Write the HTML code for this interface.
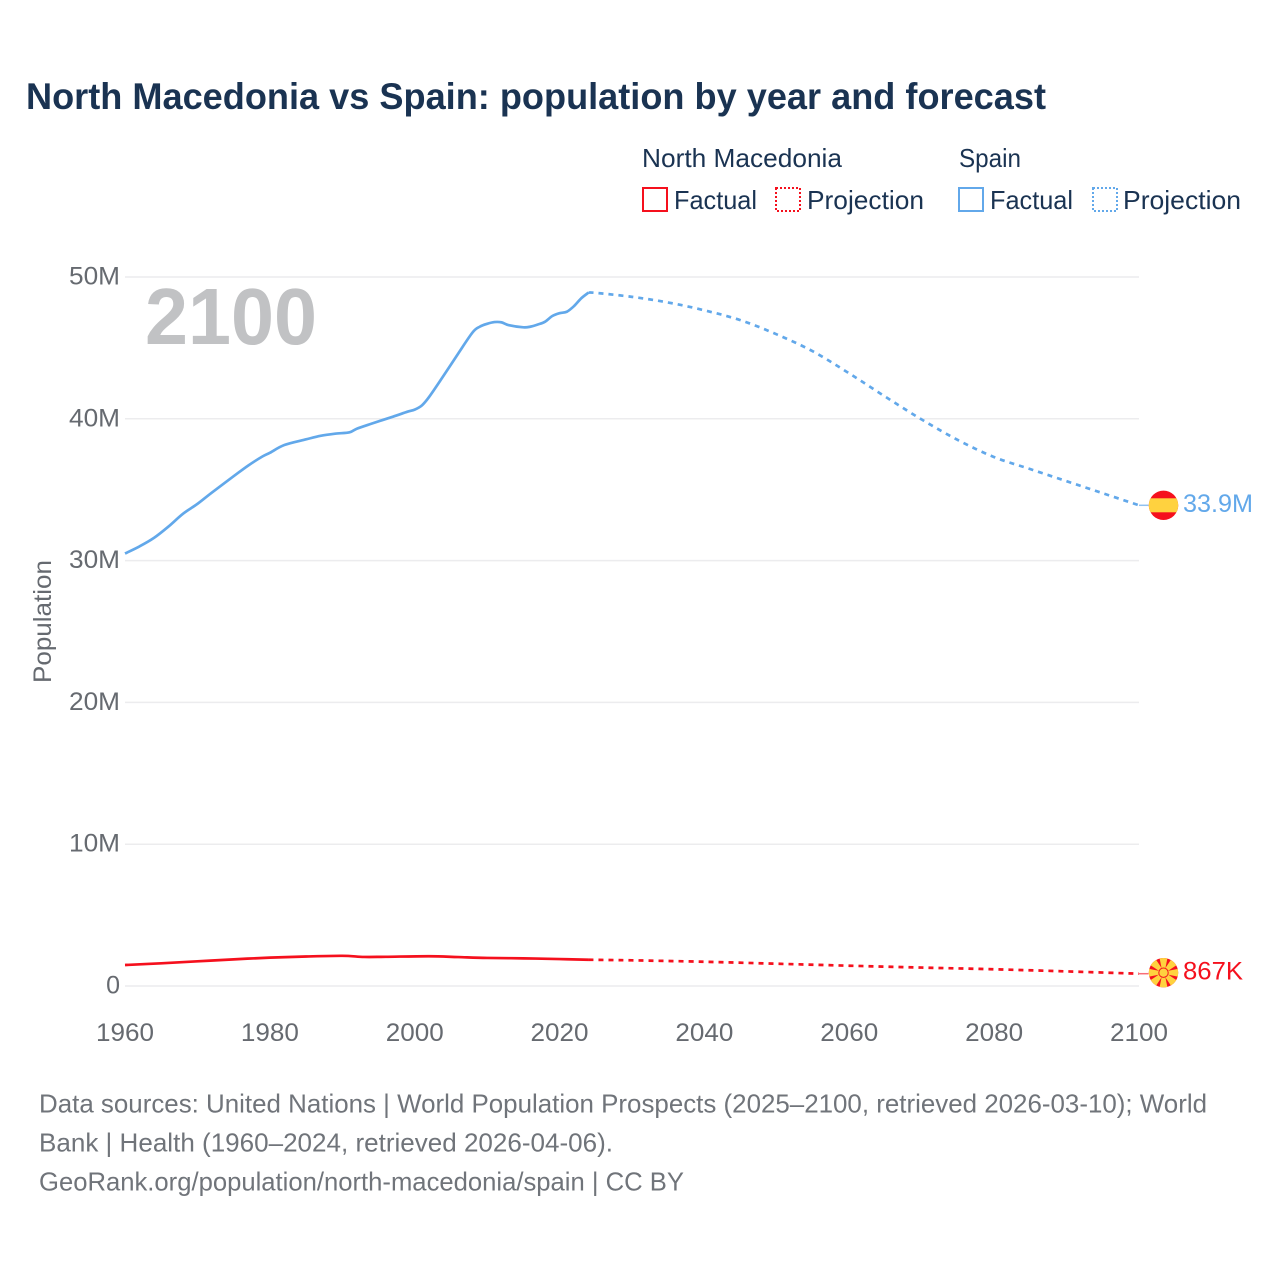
<!DOCTYPE html>
<html lang="en">
<head>
<meta charset="utf-8">
<title>North Macedonia vs Spain: population by year and forecast</title>
<style>
html,body{margin:0;padding:0;background:#fff}
svg{display:block}
text{font-family:"Liberation Sans",Arial,sans-serif}
</style>
</head>
<body>
<svg id="chart" xmlns="http://www.w3.org/2000/svg" width="1280" height="1280" viewBox="0 0 1280 1280">
  <rect width="1280" height="1280" fill="#fff"/>
  <text x="26" y="109" font-size="37" font-weight="700" fill="#1a3352" textLength="1020" lengthAdjust="spacingAndGlyphs">North Macedonia vs Spain: population by year and forecast</text>

  <g font-size="26" fill="#1a3352">
    <text x="642" y="167" textLength="200" lengthAdjust="spacingAndGlyphs">North Macedonia</text>
    <text x="959" y="167" textLength="62" lengthAdjust="spacingAndGlyphs">Spain</text>
    <g>
      <rect x="643" y="188" width="24" height="23" fill="none" stroke="#f5101d" stroke-width="2"/>
      <text x="674" y="209" textLength="83" lengthAdjust="spacingAndGlyphs">Factual</text>
    </g>
    <g>
      <rect x="776" y="188" width="24" height="23" fill="none" stroke="#f5101d" stroke-width="2" stroke-dasharray="2 2"/>
      <text x="807" y="209" textLength="117" lengthAdjust="spacingAndGlyphs">Projection</text>
    </g>
    <g>
      <rect x="959" y="188" width="24" height="23" fill="none" stroke="#62a8ea" stroke-width="2"/>
      <text x="990" y="209" textLength="83" lengthAdjust="spacingAndGlyphs">Factual</text>
    </g>
    <g>
      <rect x="1093" y="188" width="24" height="23" fill="none" stroke="#62a8ea" stroke-width="2" stroke-dasharray="2 2"/>
      <text x="1123" y="209" textLength="118" lengthAdjust="spacingAndGlyphs">Projection</text>
    </g>
  </g>

  <g id="grid"></g>
  <g id="yticks" font-size="25" fill="#666a70"></g>
  <g id="xticks" font-size="25" fill="#666a70"></g>
  <text transform="translate(51 683) rotate(-90)" font-size="25" fill="#666a70" textLength="123" lengthAdjust="spacingAndGlyphs">Population</text>
  <text x="145" y="344" font-size="80" font-weight="700" fill="#c1c2c4" textLength="172" lengthAdjust="spacingAndGlyphs">2100</text>

  <g id="series"></g>
  <g id="markers"></g>

  <g font-size="26" fill="#70747a">
    <text x="39" y="1112.5" textLength="1168" lengthAdjust="spacingAndGlyphs">Data sources: United Nations | World Population Prospects (2025–2100, retrieved 2026-03-10); World</text>
    <text x="39" y="1151.5" textLength="574" lengthAdjust="spacingAndGlyphs">Bank | Health (1960–2024, retrieved 2026-04-06).</text>
    <text x="39" y="1190.5" textLength="645" lengthAdjust="spacingAndGlyphs">GeoRank.org/population/north-macedonia/spain | CC BY</text>
  </g>
</svg>
<script>
const xTickYears = [1960, 1980, 2000, 2020, 2040, 2060, 2080, 2100];
const yTickValues = [0, 10, 20, 30, 40, 50];
const yTickLabels = ['0', '10M', '20M', '30M', '40M', '50M'];

const spainFactualYears = [1960, 1962, 1964, 1966, 1968, 1970, 1972, 1975, 1977, 1979, 1980, 1982, 1985, 1987, 1989, 1991, 1992, 1994, 1997, 1999, 2000, 2001, 2002, 2004, 2006, 2008, 2009, 2010, 2011, 2012, 2013, 2015, 2016, 2017, 2018, 2019, 2020, 2021, 2022, 2023, 2024];
const spainFactualValues = [30.5, 31.0, 31.6, 32.4, 33.3, 34.0, 34.8, 35.95, 36.7, 37.35, 37.6, 38.15, 38.55, 38.8, 38.95, 39.05, 39.3, 39.65, 40.15, 40.5, 40.65, 40.95, 41.55, 43.05, 44.6, 46.1, 46.5, 46.7, 46.82, 46.8, 46.6, 46.45, 46.5, 46.65, 46.85, 47.25, 47.45, 47.55, 47.95, 48.5, 48.9];
const spainProjectionYears = [2024, 2025, 2030, 2035, 2040, 2045, 2050, 2055, 2060, 2065, 2070, 2075, 2080, 2085, 2090, 2095, 2100];
const spainProjectionValues = [48.9, 48.88, 48.6, 48.2, 47.65, 46.95, 45.95, 44.75, 43.2, 41.55, 39.95, 38.5, 37.3, 36.45, 35.6, 34.75, 33.9];

const macedoniaFactualYears = [1960, 1965, 1970, 1975, 1980, 1985, 1990, 1993, 1996, 2002, 2006, 2010, 2015, 2020, 2024];
const macedoniaFactualValues = [1.48, 1.6, 1.74, 1.88, 2.0, 2.08, 2.13, 2.05, 2.06, 2.1, 2.04, 1.98, 1.95, 1.9, 1.85];
const macedoniaProjectionYears = [2024, 2030, 2040, 2050, 2060, 2070, 2080, 2090, 2100];
const macedoniaProjectionValues = [1.85, 1.81, 1.71, 1.57, 1.43, 1.3, 1.18, 1.03, 0.867];

const spainEndLabel = '33.9M';
const macedoniaEndLabel = '867K';

const SVGNS = 'http://www.w3.org/2000/svg';
const xScale = function (year) { return 125 + (year - 1960) * (1139 - 125) / 140; };
const yScale = function (value) { return 986 - value * (986 - 277) / 50; };
const make = function (tag, attrs, parent) {
  const el = document.createElementNS(SVGNS, tag);
  Object.keys(attrs).forEach(function (k) { el.setAttribute(k, attrs[k]); });
  parent.appendChild(el);
  return el;
};
/* Smooth path through the data points (Catmull-Rom converted to cubic Beziers) */
const pathFor = function (years, values) {
  const pts = years.map(function (yr, i) { return [xScale(yr), yScale(values[i])]; });
  let d = 'M' + pts[0][0].toFixed(2) + ' ' + pts[0][1].toFixed(2);
  for (let i = 0; i < pts.length - 1; i++) {
    const p0 = pts[Math.max(i - 1, 0)];
    const p1 = pts[i];
    const p2 = pts[i + 1];
    const p3 = pts[Math.min(i + 2, pts.length - 1)];
    const c1x = p1[0] + (p2[0] - p0[0]) / 6;
    const c1y = p1[1] + (p2[1] - p0[1]) / 6;
    const c2x = p2[0] - (p3[0] - p1[0]) / 6;
    const c2y = p2[1] - (p3[1] - p1[1]) / 6;
    d += ' C' + c1x.toFixed(2) + ' ' + c1y.toFixed(2) + ' ' + c2x.toFixed(2) + ' ' + c2y.toFixed(2) + ' ' + p2[0].toFixed(2) + ' ' + p2[1].toFixed(2);
  }
  return d;
};

const grid = document.getElementById('grid');
const yticks = document.getElementById('yticks');
const xticks = document.getElementById('xticks');
const series = document.getElementById('series');
const markers = document.getElementById('markers');

yTickValues.forEach(function (v, i) {
  const line = make('line', {x1: 125, x2: 1139, y1: yScale(v), y2: yScale(v), stroke: '#ececee', 'stroke-width': 1.5}, grid);
  
  
  const label = make('text', {x: 120, y: yScale(v) + 7.5, 'text-anchor': 'end'}, yticks);
  label.textContent = yTickLabels[i];
  if (yTickLabels[i].length > 1) {
    label.setAttribute('textLength', 51);
    label.setAttribute('lengthAdjust', 'spacingAndGlyphs');
  }
  
  
});

xTickYears.forEach(function (yr) {
  const label = make('text', {x: xScale(yr), y: 1041, 'text-anchor': 'middle', textLength: 58, lengthAdjust: 'spacingAndGlyphs'}, xticks);
  label.textContent = String(yr);
  
  
});

const spainFactual = make('path', {d: pathFor(spainFactualYears, spainFactualValues), fill: 'none', stroke: '#62a8ea', 'stroke-width': 2.7, 'stroke-linejoin': 'round'}, series);



const spainProjection = make('path', {d: pathFor(spainProjectionYears, spainProjectionValues), fill: 'none', stroke: '#62a8ea', 'stroke-width': 2.7, 'stroke-dasharray': '5 5'}, series);



const macedoniaFactual = make('path', {d: pathFor(macedoniaFactualYears, macedoniaFactualValues), fill: 'none', stroke: '#f5101d', 'stroke-width': 2.7, 'stroke-linejoin': 'round'}, series);



const macedoniaProjection = make('path', {d: pathFor(macedoniaProjectionYears, macedoniaProjectionValues), fill: 'none', stroke: '#f5101d', 'stroke-width': 2.7, 'stroke-dasharray': '5 5'}, series);



const endX = xScale(2100);
const spainY = yScale(spainProjectionValues[spainProjectionValues.length - 1]);
const macedoniaY = yScale(macedoniaProjectionValues[macedoniaProjectionValues.length - 1]);
const flagX = endX + 24.5;

const spainLink = make('line', {x1: endX, x2: flagX - 15, y1: spainY, y2: spainY, stroke: '#62a8ea', 'stroke-width': 1.5, opacity: 0.7}, markers);


const macedoniaLink = make('line', {x1: endX, x2: flagX - 15, y1: macedoniaY, y2: macedoniaY, stroke: '#f5101d', 'stroke-width': 1.5, opacity: 0.6}, markers);



/* Spain flag marker */
const esGroup = make('g', {transform: 'translate(' + flagX + ' ' + spainY + ')'}, markers);


const esClip = make('clipPath', {id: 'es-clip'}, esGroup);
make('circle', {r: 14.7}, esClip);
const esBody = make('g', {'clip-path': 'url(#es-clip)'}, esGroup);
make('rect', {x: -16, y: -16, width: 32, height: 32, fill: '#f5101d'}, esBody);
make('rect', {x: -16, y: -7, width: 32, height: 14, fill: '#ffd23f'}, esBody);

/* North Macedonia flag marker */
const mkGroup = make('g', {transform: 'translate(' + flagX + ' ' + (macedoniaY - 1) + ')'}, markers);


const mkClip = make('clipPath', {id: 'mk-clip'}, mkGroup);
make('circle', {r: 14.7}, mkClip);
const mkBody = make('g', {'clip-path': 'url(#mk-clip)'}, mkGroup);
make('rect', {x: -16, y: -16, width: 32, height: 32, fill: '#f5101d'}, mkBody);
for (let a = 0; a < 8; a++) {
  make('polygon', {points: '-1,0 1,0 4.2,-16 -4.2,-16', fill: '#ffd23f', transform: 'rotate(' + (a * 45) + ')'}, mkBody);
}
make('circle', {r: 5.2, fill: '#f5101d'}, mkBody);
make('circle', {r: 4.2, fill: '#ffd23f'}, mkBody);

const spainValue = make('text', {x: flagX + 19.5, y: spainY + 6.5, 'font-size': 25, fill: '#62a8ea', textLength: 70, lengthAdjust: 'spacingAndGlyphs'}, markers);
spainValue.textContent = spainEndLabel;



const macedoniaValue = make('text', {x: flagX + 19.5, y: macedoniaY + 6, 'font-size': 25, fill: '#f5101d', textLength: 60, lengthAdjust: 'spacingAndGlyphs'}, markers);
macedoniaValue.textContent = macedoniaEndLabel;


</script>
</body>
</html>
